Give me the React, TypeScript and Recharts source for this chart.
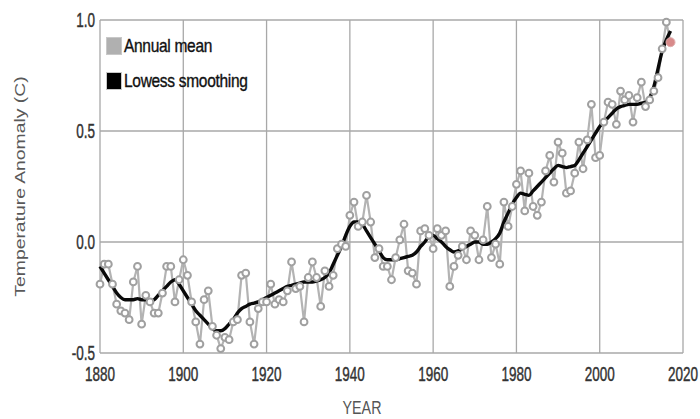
import React from 'react';
import {
  LineChart,
  Line,
  XAxis,
  YAxis,
  CartesianGrid,
  Legend,
  Label
} from 'recharts';

// GISTEMP-style global annual temperature anomaly, 1880-2017
const startYear = 1880;

const annualMean = [
  -0.19, -0.10, -0.10, -0.19, -0.28, -0.31, -0.32, -0.35, -0.18, -0.11,
  -0.37, -0.24, -0.27, -0.32, -0.32, -0.23, -0.11, -0.11, -0.27, -0.17,
  -0.08, -0.15, -0.27, -0.36, -0.46, -0.26, -0.22, -0.38, -0.42, -0.48,
  -0.43, -0.44, -0.36, -0.35, -0.15, -0.14, -0.36, -0.46, -0.30, -0.27,
  -0.27, -0.19, -0.28, -0.26, -0.27, -0.22, -0.09, -0.21, -0.20, -0.36,
  -0.16, -0.09, -0.16, -0.29, -0.13, -0.20, -0.15, -0.03, -0.01, -0.02,
  0.12, 0.18, 0.07, 0.09, 0.21, 0.09, -0.07, -0.03, -0.11, -0.11,
  -0.17, -0.07, 0.01, 0.08, -0.13, -0.14, -0.19, 0.05, 0.06, 0.03,
  -0.03, 0.06, 0.03, 0.05, -0.20, -0.11, -0.06, -0.02, -0.08, 0.05,
  0.03, -0.08, 0.01, 0.16, -0.07, -0.01, -0.10, 0.18, 0.07, 0.16,
  0.26, 0.32, 0.14, 0.31, 0.16, 0.12, 0.18, 0.32, 0.39, 0.27,
  0.45, 0.40, 0.22, 0.23, 0.31, 0.45, 0.33, 0.46, 0.62, 0.38,
  0.39, 0.54, 0.63, 0.62, 0.53, 0.68, 0.64, 0.66, 0.54, 0.65,
  0.72, 0.61, 0.64, 0.68, 0.74, 0.87, 0.99, 0.90
];

const lowessSmoothing = [
  -0.11, -0.14, -0.17, -0.20, -0.23, -0.25, -0.26, -0.26, -0.26, -0.255,
  -0.26, -0.26, -0.265, -0.26, -0.24, -0.22, -0.20, -0.18, -0.17, -0.19,
  -0.22, -0.25, -0.28, -0.31, -0.33, -0.35, -0.37, -0.39, -0.40, -0.40,
  -0.39, -0.37, -0.35, -0.32, -0.30, -0.29, -0.28, -0.275, -0.27, -0.26,
  -0.25, -0.24, -0.23, -0.22, -0.21, -0.20, -0.195, -0.19, -0.185, -0.18,
  -0.18, -0.18, -0.175, -0.17, -0.16, -0.14, -0.10, -0.06, -0.02, 0.03,
  0.07, 0.09, 0.09, 0.08, 0.05, 0.02, -0.01, -0.04, -0.07, -0.08,
  -0.08, -0.08, -0.075, -0.07, -0.065, -0.06, -0.045, -0.02, 0.00, 0.025,
  0.03, 0.015, 0.00, -0.02, -0.035, -0.045, -0.04, -0.03, -0.02, -0.01,
  0.00, 0.00, -0.01, -0.01, 0.00, 0.015, 0.04, 0.09, 0.13, 0.17,
  0.20, 0.22, 0.215, 0.21, 0.23, 0.25, 0.27, 0.29, 0.31, 0.33,
  0.345, 0.34, 0.335, 0.34, 0.345, 0.37, 0.40, 0.43, 0.46, 0.49,
  0.52, 0.54, 0.56, 0.58, 0.60, 0.61, 0.615, 0.62, 0.62, 0.62,
  0.625, 0.63, 0.65, 0.70, 0.78, 0.86, 0.91, 0.95
];

const xTicks = [1880, 1900, 1920, 1940, 1960, 1980, 2000, 2020];
const yTicks = [-0.5, 0, 0.5, 1.0];

const legendItems = [
  { label: 'Annual mean', color: '#b0b0b0' },
  { label: 'Lowess smoothing', color: '#000' }
];

const data = annualMean.map((v, i) => ({
  year: startYear + i,
  annual: v,
  lowess: lowessSmoothing[i]
}));

const FONT = '"Liberation Sans", Arial, sans-serif';

const XTick = (props: any) => {
  const { x, y, payload } = props;
  return (
    <g transform={`translate(${x},${y + 20})`}>
      <text transform="scale(1,1.5)" textAnchor="middle" fontFamily={FONT} fontSize={13.5} fill="#333" stroke="#333" strokeWidth={0.3}>
        {payload.value}
      </text>
    </g>
  );
};

const YTick = (props: any) => {
  const { x, y, payload } = props;
  return (
    <g transform={`translate(${x},${y})`}>
      <text transform="scale(1,1.5)" textAnchor="end" dy="0.355em" fontFamily={FONT} fontSize={13.5} fill="#333" stroke="#333" strokeWidth={0.3}>
        {Number(payload.value).toFixed(1)}
      </text>
    </g>
  );
};

const AnnualDot = (props: any) => {
  const { cx, cy, index } = props;
  if (index === annualMean.length - 1) {
    return <circle key={index} cx={cx} cy={cy} r={4.5} fill="#d88a8a" stroke="#e0b0b0" strokeWidth={1} />;
  }
  return <circle key={index} cx={cx} cy={cy} r={3.4} fill="#fff" stroke="#a0a0a0" strokeWidth={2} />;
};

const LegendBox = () => (
  <div style={{ fontFamily: FONT, fontSize: 15.5, color: '#111' }}>
    {legendItems.map((item) => (
      <div key={item.label} style={{ display: 'flex', alignItems: 'center', height: 18, marginBottom: 17 }}>
        <span
          style={{
            width: 14,
            height: 16,
            background: item.color,
            border: '1px solid #c8c8c8',
            marginRight: 2
          }}
        />
        <span
          style={{
            display: 'inline-block',
            transform: 'scaleY(1.2)',
            letterSpacing: -0.3,
            WebkitTextStroke: '0.3px #111'
          }}
        >
          {item.label}
        </span>
      </div>
    ))}
  </div>
);

export default function App() {
  return (
    <div style={{ position: 'absolute', left: 0, top: 0, background: '#fff' }}>
      <LineChart width={700} height={419} data={data} margin={{ top: 20, right: 17, left: 0, bottom: 36 }}>
        <CartesianGrid stroke="#a8a8a8" strokeWidth={1.3} />
        <XAxis
          dataKey="year"
          type="number"
          domain={[1880, 2020]}
          ticks={xTicks}
          interval={0}
          height={30}
          axisLine={false}
          tickLine={false}
          tick={<XTick />}
        >
          <Label
            content={(p: any) => (
              <g transform={`translate(${p.viewBox.x + 262},${p.viewBox.y + 61})`}>
                <text transform="scale(1,1.3)" textAnchor="middle" fontFamily={FONT} fontSize={14.3} fill="#555">
                  YEAR
                </text>
              </g>
            )}
          />
        </XAxis>
        <YAxis
          type="number"
          domain={[-0.5, 1]}
          ticks={yTicks}
          interval={0}
          width={100}
          axisLine={false}
          tickLine={false}
          tickSize={3}
          tickMargin={2}
          tick={<YTick />}
        >
          <Label
            content={(p: any) => (
              <text
                transform={`translate(25,${p.viewBox.y + p.viewBox.height / 2}) rotate(-90) scale(1.29,1)`}
                textAnchor="middle"
                fontFamily={FONT}
                fontSize={15}
                fill="#595959"
              >
                Temperature Anomaly (C)
              </text>
            )}
          />
        </YAxis>
        <Legend
          layout="horizontal"
          verticalAlign="middle"
          align="center"
          content={<LegendBox />}
          wrapperStyle={{ left: 106, top: 37, width: 'auto', height: 'auto' }}
        />
        <Line
          type="linear"
          dataKey="annual"
          stroke="#b3b3b3"
          strokeWidth={2.2}
          dot={<AnnualDot />}
          activeDot={false}
          isAnimationActive={false}
        />
        <Line
          type="monotone"
          dataKey="lowess"
          stroke="#0a0a0a"
          strokeWidth={3.4}
          dot={false}
          activeDot={false}
          isAnimationActive={false}
        />
      </LineChart>
    </div>
  );
}
